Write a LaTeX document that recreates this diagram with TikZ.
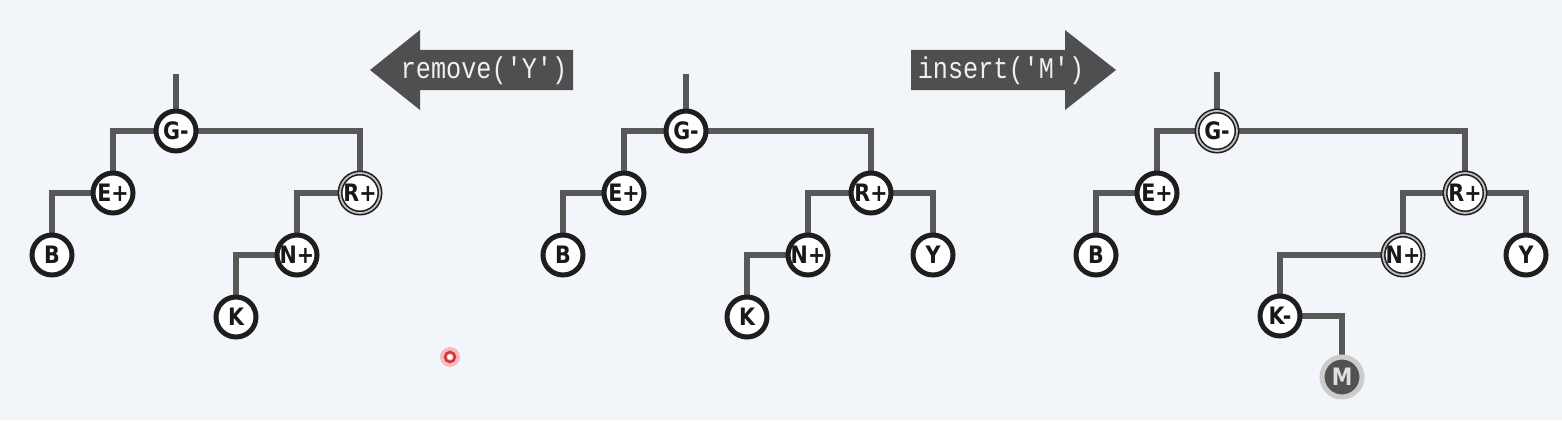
\documentclass[tikz,border=0pt]{standalone}
\usepackage{fontspec}
\newfontfamily\nodefont{DejaVu Sans}[FakeStretch=0.86]
\newfontfamily\monofont{Liberation Mono}[FakeStretch=0.84]
\definecolor{bgc}{HTML}{F2F6FA}
\definecolor{edgec}{HTML}{585858}
\definecolor{ringc}{HTML}{1E1E1E}
\definecolor{arrowc}{HTML}{4F4F4F}
\pgfdeclarelayer{back}
\pgfdeclarelayer{bg}
\pgfsetlayers{back,bg,main}
\tikzset{
  nd/.style={circle, draw=ringc, line width=5pt, fill=white, minimum size=40pt, inner sep=0pt,
    font=\nodefont\bfseries\fontsize{24}{24}\selectfont, text=black!90},
  dbl/.style={nd, line width=1.6pt, double=black!25, double distance=1.8pt},
  newnd/.style={nd, draw=black!20, fill=black!68, text=black!12, line width=5pt},
  edge/.style={draw=edgec, line width=5.5pt, line join=miter},
  arrowshape/.style={fill=arrowc},
  lbl/.style={font=\monofont\fontsize{30}{30}\selectfont, text=black!6, inner sep=0pt}
}
\begin{document}
\begin{tikzpicture}[x=1pt,y=-1pt]
\begin{pgfonlayer}{back}
\fill[bgc] (0,0) rectangle (1562,420);
\end{pgfonlayer}
\useasboundingbox (0,0) rectangle (1562,420);

% arrows
\fill[arrowshape] (370,70) -- (420,30) -- (420,50) -- (573,50) -- (573,90) -- (420,90) -- (420,110) -- cycle;
\node[lbl] (lremove) at (484,71) {remove('Y')};
\fill[arrowshape] (1116,70) -- (1065,30) -- (1065,50) -- (911,50) -- (911,90) -- (1065,90) -- (1065,110) -- cycle;
\node[lbl] (linsert) at (1001,71) {insert('M')};

% tree 1
\node[nd] (G1) at (176,131) {G-};
\node[nd] (E1) at (113,193) {E+};
\node[nd] (B1) at (52,255) {B};
\node[dbl] (R1) at (360,193) {R+};
\node[nd] (N1) at (297,255) {N+};
\node[nd] (K1) at (236,317) {K};
\coordinate (S1) at (176,74);

% tree 2
\node[nd] (G2) at (686,131) {G-};
\node[nd] (E2) at (624,193) {E+};
\node[nd] (B2) at (563,255) {B};
\node[nd] (R2) at (871,193) {R+};
\node[nd] (N2) at (808,255) {N+};
\node[nd] (Y2) at (933,255) {Y};
\node[nd] (K2) at (747,317) {K};
\coordinate (S2) at (686,74);

% tree 3
\node[dbl] (G3) at (1217,131) {G-};
\node[nd] (E3) at (1157,193) {E+};
\node[nd] (B3) at (1096,255) {B};
\node[dbl] (R3) at (1465,193) {R+};
\node[dbl] (N3) at (1403,255) {N+};
\node[nd] (Y3) at (1526,255) {Y};
\node[nd] (K3) at (1280,316) {K-};
\node[newnd] (M3) at (1342,377) {M};
\coordinate (S3) at (1217,72);

\begin{pgfonlayer}{bg}
\draw[edge] (S1) -- (G1.center);
\draw[edge] (E1.center) |- (G1.center);
\draw[edge] (R1.center) |- (G1.center);
\draw[edge] (B1.center) |- (E1.center);
\draw[edge] (N1.center) |- (R1.center);
\draw[edge] (K1.center) |- (N1.center);

\draw[edge] (S2) -- (G2.center);
\draw[edge] (E2.center) |- (G2.center);
\draw[edge] (R2.center) |- (G2.center);
\draw[edge] (B2.center) |- (E2.center);
\draw[edge] (N2.center) |- (R2.center);
\draw[edge] (Y2.center) |- (R2.center);
\draw[edge] (K2.center) |- (N2.center);

\draw[edge] (S3) -- (G3.center);
\draw[edge] (E3.center) |- (G3.center);
\draw[edge] (R3.center) |- (G3.center);
\draw[edge] (B3.center) |- (E3.center);
\draw[edge] (N3.center) |- (R3.center);
\draw[edge] (Y3.center) |- (R3.center);
\draw[edge] (K3.center) |- (N3.center);
\draw[edge] (M3.center) |- (K3.center);
\end{pgfonlayer}

% cursor marker
\fill[red!55, opacity=0.45] (450,357) circle (10pt);
\draw[red!75!black, line width=2.5pt, opacity=0.7] (450,357) circle (5pt);
\fill[white] (450,357) circle (2.5pt);
\end{tikzpicture}
\end{document}
